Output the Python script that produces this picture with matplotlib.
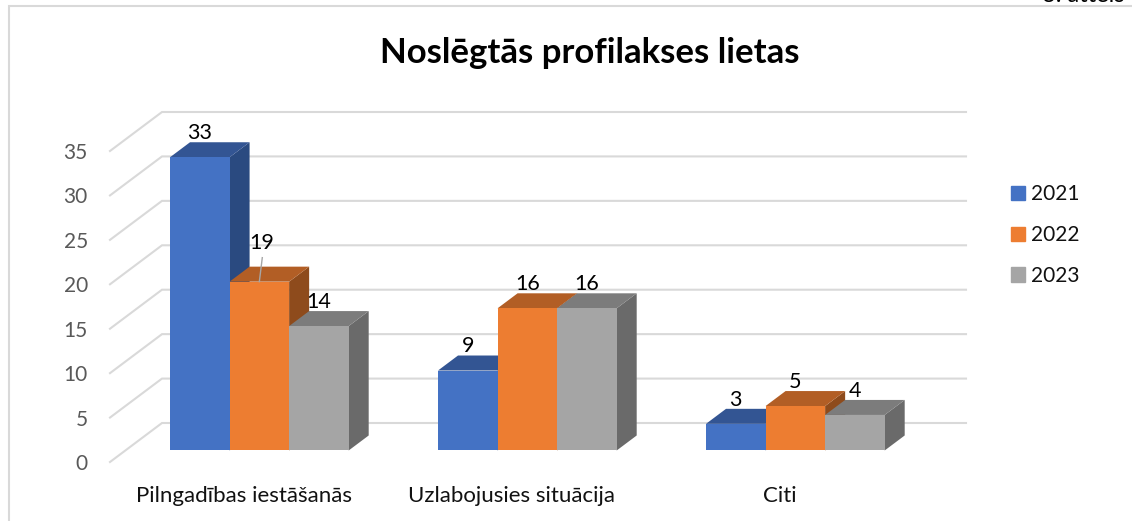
import matplotlib
matplotlib.use("Agg")
import matplotlib.pyplot as plt
from matplotlib.patches import Patch, Rectangle

title = "Noslēgtās profilakses lietas"
categories = ["Pilngadības iestāšanās", "Uzlabojusies situācija", "Citi"]
years = ["2021", "2022", "2023"]
values_2021 = [33, 9, 3]
values_2022 = [19, 16, 5]
values_2023 = [14, 16, 4]
y_ticks = [0, 5, 10, 15, 20, 25, 30, 35]

front_colors = ["#4472C4", "#ED7D31", "#A5A5A5"]
top_colors = ["#335593", "#B25E25", "#7C7C7C"]
side_colors = ["#2A4A80", "#8E4B1C", "#6A6A6A"]

W, H = 1132, 521
plt.rcParams['font.family'] = ['Lato', 'DejaVu Sans']

fig = plt.figure(figsize=(W / 100, H / 100), dpi=100)
ax = fig.add_axes([110 / W, (H - 462) / H, 804 / W, 311 / H])
ax.set_xlim(-0.5, 2.5)
ax.set_ylim(0, 35)
for s in ax.spines.values():
    s.set_visible(False)

# fake 3d: depth of the floor in data units
wall_dx = 52 / 268
wall_dy = 39 / (311 / 35)
z_front = 0.295
z_back = 0.68
bar_w = 1 / 4.5
grid_col = "#D9D9D9"

for v in y_ticks:
    ax.plot([-0.5, -0.5 + wall_dx, 2.5 + wall_dx], [v, v + wall_dy, v + wall_dy],
            color=grid_col, lw=1.5, clip_on=False, zorder=1, solid_joinstyle="miter")

fx = wall_dx * z_front
fy = wall_dy * z_front
dx = wall_dx * (z_back - z_front)
dy = wall_dy * (z_back - z_front)

for c in range(len(categories)):
    for i, vals in enumerate([values_2021, values_2022, values_2023]):
        v = vals[c]
        left = c + fx + (i - 1.5) * bar_w
        right = left + bar_w
        top = v + fy
        z = 2 + c * 3 + i
        ax.fill([right, right + dx, right + dx, right],
                [fy, fy + dy, top + dy, top],
                color=side_colors[i], lw=0, clip_on=False, zorder=z)
        ax.fill([left, left + dx, right + dx, right],
                [top, top + dy, top + dy, top],
                color=top_colors[i], lw=0, clip_on=False, zorder=z)
        ax.bar(left, v, bar_w, bottom=fy, align="edge", color=front_colors[i],
               clip_on=False, zorder=z)
        moved = c == 0 and i == 1
        ax.annotate(str(v), (left + bar_w / 2, top), xytext=(2 if moved else 0, 28 if moved else 17.5),
                    textcoords="offset points", ha="center", va="center",
                    fontsize=15.5, color="#000000", zorder=40, annotation_clip=False)

# leader line of the moved 19 label
ax.plot([fx + 0.011, fx], [values_2022[0] + fy + 2.7, values_2022[0] + fy],
        color="#A6A6A6", lw=1, clip_on=False, zorder=41)

ax.set_xticks(range(len(categories)))
ax.set_xticklabels(categories, fontsize=16, color="#111111")
ax.set_yticks(y_ticks)
ax.set_yticklabels([str(t) for t in y_ticks], fontsize=15, color="#595959")
ax.tick_params(axis="x", length=0, pad=17.5)
ax.tick_params(axis="y", length=0, pad=16)

fig.text(590 / W, 1 - 53 / H, title, fontsize=25, fontweight="bold", ha="center", va="center", color="#000000")

handles = [Patch(color=c, label=y) for c, y in zip(front_colors, years)]
fig.legend(handles=handles, loc="center left", bbox_to_anchor=(992 / W, 1 - 235 / H), frameon=False,
           fontsize=15, handlelength=0.67, handleheight=0.67, handletextpad=0.3, labelspacing=1.0,
           labelcolor="#111111")

# chart frame and the clipped caption above it
fig.add_artist(Rectangle((9 / W, -0.1), 1.2, 1 - 6 / H + 0.1, transform=fig.transFigure,
                         fill=False, edgecolor=grid_col, lw=1.5))
fig.text(1125 / W, 1 - 2 / H, "3. attēls", fontsize=17, ha="right", va="baseline", color="#000000")

fig.savefig("out.png", dpi=100)
